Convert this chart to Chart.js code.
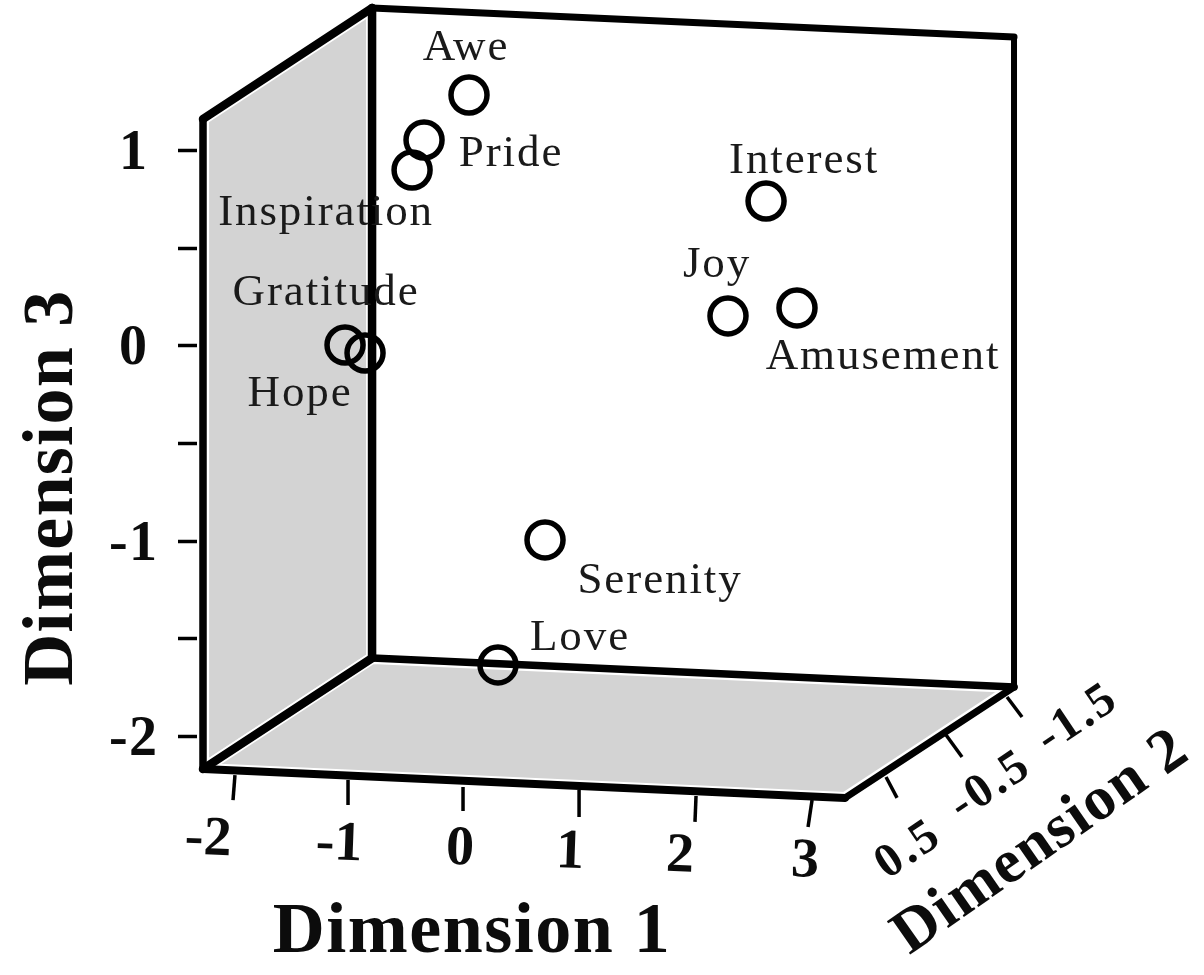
<!DOCTYPE html>
<html><head><meta charset="utf-8">
<style>html,body{margin:0;padding:0;background:#fff}#w{width:1204px;height:975px}canvas{display:block;filter:blur(0.5px)}</style>
<script src="https://cdn.jsdelivr.net/npm/chart.js@4"></script>
</head><body><div id="w"><canvas id="c" width="1204" height="975"></canvas></div>
<script>
// Emotion points: apparent position on the Dimension 1 / Dimension 3 picture plane
const emotions = ['Awe','Pride','Inspiration','Interest','Joy','Amusement','Gratitude','Hope','Serenity','Love'];
const dim1Values = [0.052,-0.339,-0.443,2.635,2.304,2.904,-1.026,-0.852,0.713,0.304];
const dim3Values = [1.285,1.055,0.901,0.742,0.154,0.195,0.005,-0.036,-0.993,-1.633];
const labelDx = [-3,87,-86,38,-11,86,-19,-65,115,82];
const labelDy = [-35,26,55,-28,-39,61,-40,53,53,-15];

// Box geometry, in axis units
const wallX = [-2.261,-0.791,-0.791,-2.261,-2.261];
const wallY = [1.162,1.731,-1.598,-2.166,1.162];
const floorX = [-2.261,-0.791,4.791,3.322,-2.261];
const floorY = [-2.166,-1.598,-1.746,-2.314,-2.166];
const edgesX = [[-2.261,-2.261],[-2.261,-0.791],[-0.791,-0.791],[-0.791,4.791],[4.791,4.791],[-0.791,4.791],[-2.261,-0.791],[-2.261,3.322],[3.322,4.791]];
const edgesY = [[1.162,-2.166],[1.162,1.731],[1.731,-1.598],[1.731,1.582],[1.582,-1.746],[-1.598,-1.746],[-2.166,-1.598],[-2.166,-2.314],[-2.314,-1.746]];
const edgeWidths = [7.5,8.5,8.5,7,6,7.5,8.5,8,7];

// Axis ticks
const dim3Ticks = [-2,-1.5,-1,-0.5,0,0.5,1];
const dim1TickLabels = ['-2','-1','0','1','2','3'];
const dim1TickX = [[-1.983,-2.0],[-1.0,-1.0],[0,0],[1.009,1.009],[2.026,2.017],[3.035,3.0]];
const dim1TickY = [[-2.197,-2.325],[-2.222,-2.350],[-2.258,-2.381],[-2.273,-2.412],[-2.304,-2.437],[-2.325,-2.463]];
const dim1LabelX = [-2.217,-1.078,-0.026,0.930,1.887,2.974];
const dim1LabelY = [-2.529,-2.555,-2.580,-2.596,-2.616,-2.642];
const dim2TickLabels = ['0.5','-0.5','-1.5'];
const dim2TickX = [[3.678,3.774],[4.2,4.339],[4.730,4.861]];
const dim2TickY = [[-2.207,-2.314],[-1.992,-2.104],[-1.797,-1.900]];
const dim2LabelX = [3.878,4.591,5.348];
const dim2LabelY = [-2.581,-2.253,-1.910];

const pairs = (xs, ys) => xs.map((x, i) => ({x, y: ys[i]}));
const INK = '#0c0c0c', SERIF = '"Liberation Serif"';
const datasets = [];
datasets.push({label:'Side wall', type:'line', data:pairs(wallX,wallY), fill:'shape', backgroundColor:'#d3d3d3', borderColor:'#fff', borderWidth:12, pointRadius:0, tension:0, clip:false, order:9});
datasets.push({label:'Floor', type:'line', data:pairs(floorX,floorY), fill:'shape', backgroundColor:'#d3d3d3', borderColor:'#fff', borderWidth:12, pointRadius:0, tension:0, clip:false, order:8});
edgesX.forEach((xs,i)=>datasets.push({label:'Edge '+i, type:'line', data:pairs(xs,edgesY[i]), borderColor:'#000', borderWidth:edgeWidths[i], borderCapStyle:'round', pointRadius:0, clip:false, order:7}));
dim1TickX.forEach((xs,i)=>datasets.push({label:'Dimension 1 tick '+dim1TickLabels[i], type:'line', data:pairs(xs,dim1TickY[i]), borderColor:'#000', borderWidth:3.5, pointRadius:0, clip:false, order:7}));
dim2TickX.forEach((xs,i)=>datasets.push({label:'Dimension 2 tick '+dim2TickLabels[i], type:'line', data:pairs(xs,dim2TickY[i]), borderColor:'#000', borderWidth:3.5, pointRadius:0, clip:false, order:7}));
datasets.push({label:'Emotions', type:'scatter', data:pairs(dim1Values,dim3Values), pointStyle:'circle', pointRadius:18, pointBorderWidth:5.5, pointBorderColor:'#000', pointBackgroundColor:'rgba(0,0,0,0)', clip:false, order:1});

function putText(ctx, text, x, y, font, spacing, angle, color, baseline){
  ctx.save();
  ctx.translate(x,y); ctx.rotate((angle||0)*Math.PI/180);
  ctx.font = font; ctx.fillStyle = color||INK; ctx.textAlign='center'; ctx.textBaseline=baseline||'middle';
  ctx.letterSpacing = (spacing||0)+'px';
  ctx.fillText(text,0,0);
  ctx.restore();
}
const textPlugin = {
  id:'texts',
  beforeDraw(chart){ chart.ctx.letterSpacing='1.3px'; },
  afterDatasetsDraw(chart){
    const ctx=chart.ctx, sx=chart.scales.x, sy=chart.scales.y;
    ctx.letterSpacing='0px';
    emotions.forEach((e,i)=>{
      putText(ctx,e,sx.getPixelForValue(dim1Values[i])+labelDx[i],sy.getPixelForValue(dim3Values[i])+labelDy[i],'45px '+SERIF,1.9,0,'#1a1a1a','alphabetic');
    });
    dim1TickLabels.forEach((t,i)=>putText(ctx,t,sx.getPixelForValue(dim1LabelX[i]),sy.getPixelForValue(dim1LabelY[i]),'bold 56px '+SERIF,0,2));
    dim2TickLabels.forEach((t,i)=>putText(ctx,t,sx.getPixelForValue(dim2LabelX[i]),sy.getPixelForValue(dim2LabelY[i]),'bold 48px '+SERIF,3,-34));
    putText(ctx,'Dimension 1',sx.getPixelForValue(0.078),sy.getPixelForValue(-3.01),'bold 72px '+SERIF,1.5,0);
    putText(ctx,'Dimension 2',sx.getPixelForValue(5.03),sy.getPixelForValue(-2.545),'bold 62px '+SERIF,1.5,-35);
  }
};
new Chart(document.getElementById('c'),{
  type:'scatter',
  data:{datasets},
  plugins:[textPlugin],
  options:{
    responsive:false, animation:false,
    layout:{autoPadding:false,padding:0},
    plugins:{legend:{display:false},tooltip:{enabled:false},title:{display:false}},
    scales:{
      x:{type:'linear',display:false,min:-2.261,max:6.443},
      y:{type:'linear',position:'left',min:-3.2207,max:1.7716,
        afterBuildTicks(s){ s.ticks = dim3Ticks.map(value=>({value})); },
        afterFit(s){ s.width=203; s.paddingTop=0; s.paddingBottom=0; s.paddingLeft=0; s.paddingRight=0; },
        border:{display:false},
        grid:{drawOnChartArea:false,drawTicks:true,tickLength:25,tickWidth:3.5,tickColor:'#000'},
        ticks:{autoSkip:false,maxRotation:0,minRotation:0,crossAlign:'center',padding:21,labelOffset:4,color:INK,
          font:{family:SERIF,size:56,weight:'bold'},
          callback(v){ return Number.isInteger(v)?String(v):''; }},
        title:{display:true,text:'Dimension 3',color:INK,font:{family:SERIF,size:72,weight:'bold'},padding:{top:10,bottom:0}}
      }
    }
  }
});
</script></body></html>
